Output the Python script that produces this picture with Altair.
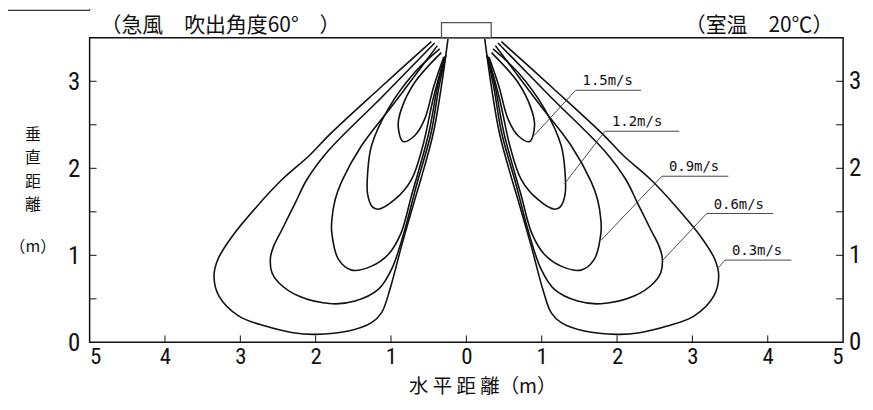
import altair as alt
import pandas as pd

# ---- isovel contours: horizontal distance from outlet centre (m) and height (m)
# (read from the left lobe; the pattern is drawn on both sides of the outlet)
SPEEDS = ["0.3", "0.6", "0.9", "1.2", "1.5"]
D03 = [0.465, 1.15, 1.826, 2.08, 2.446, 2.777, 3.107, 3.30, 3.349, 3.283, 3.019, 2.666,
       2.30, 2.005, 1.565, 1.258, 1.125, 1.015, 0.861, 0.684, 0.605, 0.44, 0.33, 0.244]
H03 = [3.456, 2.92, 2.379, 2.15, 1.871, 1.565, 1.22, 0.95, 0.761, 0.532, 0.302, 0.187,
       0.11, 0.092, 0.130, 0.226, 0.341, 0.608, 1.106, 1.642, 1.871, 2.40, 2.95, 3.487]
D06 = [0.42, 1.12, 1.83, 2.116, 2.27, 2.446, 2.56, 2.60, 2.58, 2.49, 2.226, 1.786,
       1.477, 1.169, 0.993, 0.816, 0.70, 0.641, 0.47, 0.36, 0.27]
H06 = [3.44, 2.82, 2.204, 1.871, 1.604, 1.297, 1.10, 0.972, 0.80, 0.685, 0.532, 0.444,
       0.474, 0.608, 0.838, 1.297, 1.68, 1.871, 2.40, 2.95, 3.30]
D09 = [0.385, 0.949, 1.39, 1.654, 1.741, 1.786, 1.786, 1.697, 1.522, 1.258, 1.037, 0.87,
       0.73, 0.50, 0.38, 0.28]
H09 = [3.41, 2.759, 2.262, 1.85, 1.642, 1.40, 1.259, 0.953, 0.83, 0.876, 1.01, 1.25,
       1.68, 2.40, 2.95, 3.29]
D12 = [0.354, 0.684, 1.037, 1.258, 1.31, 1.31, 1.25, 1.17, 0.949, 0.729, 0.58, 0.44, 0.29]
H12 = [3.372, 3.103, 2.683, 2.262, 1.95, 1.70, 1.56, 1.53, 1.642, 1.871, 2.25, 2.80, 3.28]
D15 = [0.333, 0.684, 0.861, 0.905, 0.839, 0.684, 0.552, 0.43, 0.30]
H15 = [3.33, 2.989, 2.683, 2.491, 2.308, 2.377, 2.568, 2.95, 3.28]

# ---- speed labels (right side): leader start on contour, underline start/end, underline height
LABELS = ["1.5m/s", "1.2m/s", "0.9m/s", "0.6m/s", "0.3m/s"]
LEAD_X = [0.90, 1.305, 1.79, 2.596, 3.345]
LEAD_Y = [2.377, 1.826, 1.175, 0.934, 0.858]
LINE_X1 = [1.45, 1.84, 2.596, 3.19, 3.432]
LINE_X2 = [2.318, 2.824, 3.477, 4.071, 4.313]
LINE_Y = [2.897, 2.426, 1.909, 1.481, 0.945]

# ---- outlet (ceiling diffuser) outline
OUTLET_X = [-0.33, 0.33]
OUTLET_Y = [3.5, 3.674]

# ---- axis ticks / labels
X_TICKS = [-5, -4, -3, -2, -1, 0, 1, 2, 3, 4, 5]
X_INNER_TICKS = [-4, -3, -2, -1, 0, 1, 2, 3, 4]
Y_LABELS = [0, 1, 2, 3]
Y_MINOR = [0.5, 1.0, 1.5, 2.0, 2.5, 3.0]

# ---- texts
TOP_LEFT = "（急風　吹出角度60°　）"
TOP_RIGHT = "（室温　20℃）"
X_TITLE = "水 平 距 離（m）"
Y_TITLE_CHARS = ["垂", "直", "距", "離"]
Y_TITLE_UNIT = "（m）"

W, H = 757, 306
NUM_FONT = "Liberation Sans Narrow, Roboto Condensed, DejaVu Sans Condensed, sans-serif"
JP_FONT = "Noto Sans CJK JP"
INK = "#111111"

xs = alt.Scale(domain=[-5, 5], nice=False, zero=False)
ys = alt.Scale(domain=[0, 3.5], nice=False, zero=False)
AX = alt.Axis(values=X_TICKS, labelExpr="'' + abs(datum.value)", title=None, ticks=False,
              tickSize=0, domain=False, grid=False, labelFont=NUM_FONT, labelFontSize=23,
              labelColor=INK, labelPadding=3, labelOverlap=False, labelBound=False)
AY = alt.Axis(values=Y_LABELS, title=None, ticks=False, tickSize=0, domain=False, grid=False,
              labelFont=NUM_FONT, labelFontSize=25, labelColor=INK, labelPadding=10,
              labelOverlap=False)

# contour table
rows = []
for spd, D, Hh in zip(SPEEDS, [D03, D06, D09, D12, D15], [H03, H06, H09, H12, H15]):
    for side in (-1, 1):
        for i, (d, h) in enumerate(zip(D, Hh)):
            rows.append({"key": f"{spd}_{side}", "o": i, "x": side * d, "y": h})
df_c = pd.DataFrame(rows)

lrows = []
for lab, lx, ly, x1, x2, yy in zip(LABELS, LEAD_X, LEAD_Y, LINE_X1, LINE_X2, LINE_Y):
    lrows += [{"lab": lab, "o": 0, "x": lx, "y": ly},
              {"lab": lab, "o": 1, "x": x1, "y": yy},
              {"lab": lab, "o": 2, "x": x2, "y": yy}]
df_l = pd.DataFrame(lrows)
df_t = pd.DataFrame({"lab": LABELS, "x": LINE_X1, "y": LINE_Y})

contours = alt.Chart(df_c).mark_line(interpolate="catmull-rom", color=INK, strokeWidth=1.6).encode(
    x=alt.X("x:Q", scale=xs, axis=AX),
    y=alt.Y("y:Q", scale=ys, axis=AY),
    detail="key:N", order="o:Q")

leaders = alt.Chart(df_l).mark_line(color="#333333", strokeWidth=0.9).encode(
    x=alt.X("x:Q", scale=xs, axis=AX), y=alt.Y("y:Q", scale=ys, axis=AY),
    detail="lab:N", order="o:Q")

labels = alt.Chart(df_t).mark_text(align="left", baseline="bottom", dx=7, dy=-2,
                                   font="DejaVu Sans Mono", fontSize=14, color=INK).encode(
    x=alt.X("x:Q", scale=xs, axis=AX), y=alt.Y("y:Q", scale=ys, axis=AY), text="lab:N")

outlet = alt.Chart(pd.DataFrame({"x": [OUTLET_X[0]], "x2": [OUTLET_X[1]],
                                 "y": [OUTLET_Y[0]], "y2": [OUTLET_Y[1]]})).mark_rect(
    fillOpacity=0, stroke="#555555", strokeWidth=1.3).encode(
    x=alt.X("x:Q", scale=xs, axis=AX), x2="x2:Q",
    y=alt.Y("y:Q", scale=ys, axis=AY), y2="y2:Q")

df_ym = pd.DataFrame({"y": Y_MINOR})
lticks = alt.Chart(df_ym).mark_rule(color=INK, strokeWidth=1).encode(
    y=alt.Y("y:Q", scale=ys, axis=AY), x=alt.value(0), x2=alt.value(7))
rticks = alt.Chart(df_ym).mark_rule(color=INK, strokeWidth=1).encode(
    y=alt.Y("y:Q", scale=ys, axis=AY), x=alt.value(W - 7), x2=alt.value(W))
bticks = alt.Chart(pd.DataFrame({"x": X_INNER_TICKS})).mark_rule(color=INK, strokeWidth=1).encode(
    x=alt.X("x:Q", scale=xs, axis=AX), y=alt.value(H - 7), y2=alt.value(H))

rlabels = alt.Chart(pd.DataFrame({"y": Y_LABELS})).mark_text(
    align="left", baseline="middle", font=NUM_FONT, fontSize=25, color=INK).encode(
    y=alt.Y("y:Q", scale=ys, axis=AY), x=alt.value(W + 6), text=alt.Text("y:Q"))


def ptext(txt, px, py, size, align="left", font=JP_FONT):
    return alt.Chart(pd.DataFrame({"t": [txt]})).mark_text(
        align=align, baseline="middle", font=font, fontSize=size, color=INK).encode(
        text="t:N", x=alt.value(px), y=alt.value(py))


titles = [
    ptext(TOP_LEFT, 11, -12, 21),
    ptext(TOP_RIGHT, 598, -12, 21),
    ptext(X_TITLE, 395, 350.5, 19.5, align="center"),
    ptext(Y_TITLE_UNIT, -57, 210, 16, align="center"),
]
for ch, yy in zip(Y_TITLE_CHARS, [98, 121.3, 144.6, 167.9]):
    titles.append(ptext(ch, -57, yy, 16, align="center"))

box_h = alt.Chart(pd.DataFrame({"a": [0]})).mark_rule(color="#333333", strokeWidth=1.2).encode(
    x=alt.value(-82), x2=alt.value(0), y=alt.value(-27.5))
box_v = alt.Chart(pd.DataFrame({"a": [0]})).mark_rule(color="#333333", strokeWidth=1.2).encode(
    x=alt.value(0), y=alt.value(-29), y2=alt.value(-27.5))

chart = alt.layer(contours, leaders, labels, outlet, lticks, rticks, bticks, rlabels,
                  *titles, box_h, box_v).properties(
    width=W, height=H, autosize=alt.AutoSizeParams(type="none"),
    padding={"left": 82, "top": 29, "right": 22, "bottom": 59},
    background="white",
).configure_view(stroke=INK, strokeWidth=1.5)

chart.save("out.html", embed_options={"renderer": "svg", "actions": False})
